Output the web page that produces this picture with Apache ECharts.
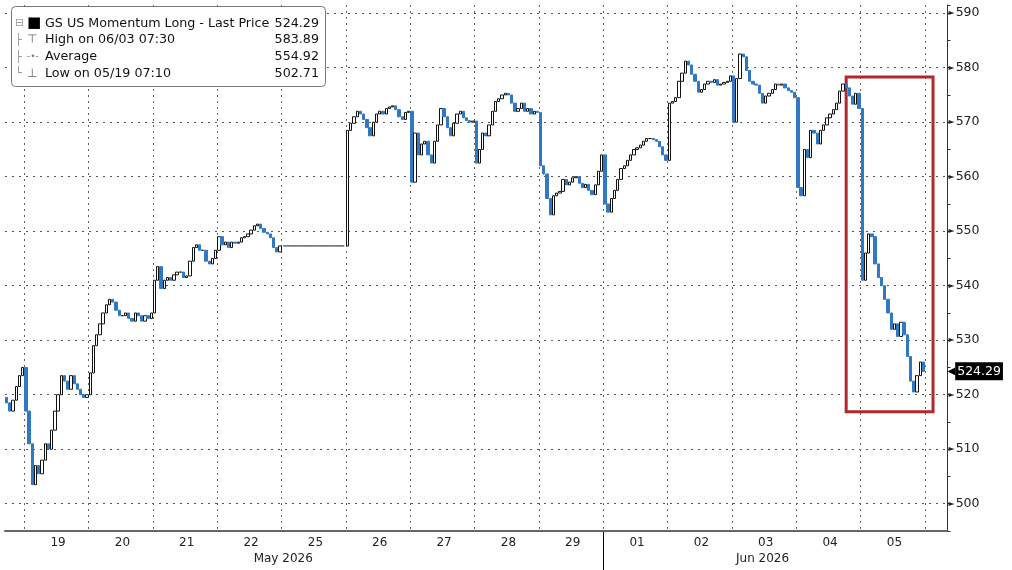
<!DOCTYPE html>
<html>
<head>
<meta charset="utf-8">
<script src="https://cdn.jsdelivr.net/npm/echarts@6/dist/echarts.min.js"></script>
<style>
html, body { margin: 0; background: #fff; }
#main { width: 1012px; height: 570px; }
</style>
</head>
<body>
<div id="main"></div>
<script>
// trading days on the axis, bars per full day, empty slots after the last bar
var dayNames = ['18', '19', '20', '21', '22', '25', '26', '27', '28', '29', '01', '02', '03', '04', '05'];
var barsPerDay = 20;
var futureBars = 7;
var holiday = '25';

// closes of each intraday bar (open = previous close)
var firstOpen = 519.5;
var d18 = [518.5, 517, 519, 521.5, 523.5, 525];
var d19 = [517, 511, 503.5, 507, 505.5, 508, 511, 510, 513.5, 517, 520, 523.5, 522.5, 521, 523.5, 522, 521, 520, 519.5, 520];
var d20 = [524, 529, 531, 533, 535, 536.5, 537.5, 537, 535.5, 534.5, 534.5, 535, 534, 533.5, 535, 534.5, 533.5, 534.5, 534, 535];
var d21 = [541, 543.5, 539.5, 541, 541.5, 541, 542, 542.5, 542.5, 541.5, 541.8, 544.5, 547, 547.5, 546.5, 546.5, 544.5, 544, 545, 546.5];
var d22 = [549, 547.5, 548, 547, 548, 547.8, 548, 548.8, 549, 549.5, 550.2, 551, 551.3, 550.5, 549.8, 549.5, 548.8, 547, 546.2, 547.3];
var d25 = [547.3, 547.3, 547.3, 547.3, 547.3, 547.3, 547.3, 547.3, 547.3, 547.3, 547.3, 547.3, 547.3, 547.3, 547.3, 547.3, 547.3, 547.3, 547.3, 547.3];
var d26 = [568.5, 569.8, 571, 572, 571.5, 570.5, 569, 567.5, 570, 571.5, 572, 571.5, 572.5, 572.8, 573, 572.3, 571, 570.5, 571.8, 572];
var d27 = [559, 568, 564, 566, 566.5, 564, 562.5, 566.5, 569.5, 572.5, 571, 569, 567.5, 569.8, 571.5, 572, 570.8, 570.3, 570, 570.2];
var d28 = [562.5, 565, 568, 567.5, 569.5, 572, 573.8, 574.3, 575, 575.3, 575, 573.5, 572, 572.5, 573.5, 572, 572.5, 571.5, 572, 571.8];
var d29 = [562, 560.5, 556, 553, 556.5, 557, 557.3, 559.5, 558.5, 559, 559.8, 560, 558.8, 558, 558.6, 557.5, 556.7, 558.5, 561, 564];
var d01 = [555, 553.5, 556, 557.5, 559.5, 561.5, 562, 563, 564, 565, 565.3, 565.8, 566.5, 567, 567, 566.8, 566.5, 565.5, 564, 563];
var d02 = [573.5, 573.8, 574.5, 577.5, 579, 581.2, 580.5, 578.8, 577.5, 575.5, 576, 577, 577.5, 577.3, 577.8, 576.8, 577, 577.3, 577.5, 578.5];
var d03 = [570, 578, 582.5, 582, 579.5, 577.5, 577, 576.8, 575.3, 573.5, 574.8, 575.3, 576, 577, 576.8, 577, 576.3, 575.8, 575.5, 574.5];
var d04 = [558, 556.5, 565, 563.5, 568.5, 568, 566, 568.5, 569.5, 570.8, 571.5, 572.3, 573.5, 575.7, 577, 576.3, 574.8, 573.3, 575.3, 572.5];
var d05 = [541, 546, 549.5, 549, 544, 541.5, 540, 537.5, 535, 532, 533, 530.7, 533.3, 531, 527, 522.5, 520.5, 523.5, 526, 524.29];
var dayCloses = [d18, d19, d20, d21, d22, d25, d26, d27, d28, d29, d01, d02, d03, d04, d05];

// legend box
var legendNames = ['GS US Momentum Long - Last Price', 'High on 06/03 07:30', 'Average', 'Low on 05/19 07:10'];
var legendValues = ['524.29', '583.89', '554.92', '502.71'];
var lastPrice = 524.29;

// highlighted box (price range and bar span)
var boxHigh = 578.3;
var boxLow = 516.9;
var boxFrom = '04|15';
var boxTo = '06|2';

var monthLabels = { '25|0': 'May 2026', '03|9': 'Jun 2026' };
var monthBreak = '01|0';

// build categories and OHLC
var categories = [], candles = [], flat = [];
var dayStart = {}, dayLabelAt = {}, breakAt = { 0: true };
var prev = firstOpen;
dayNames.forEach(function (day, k) {
    var cl = dayCloses[k];
    dayStart[categories.length] = true;
    if (cl.length === barsPerDay) dayLabelAt[categories.length + 10] = day;
    cl.forEach(function (c, j) {
        categories.push(day + '|' + j);
        if (day === holiday) {
            candles.push('-');
            flat.push(c);
        } else {
            candles.push([prev, c, Math.min(prev, c), Math.max(prev, c)]);
            flat.push('-');
            prev = c;
        }
    });
});
dayStart[categories.length] = true;
for (var f = 0; f < futureBars; f++) {
    categories.push('06|' + f);
    candles.push('-');
    flat.push('-');
}
delete dayStart[0];
breakAt[categories.indexOf(monthBreak)] = true;

var font = 'DejaVu Sans';
var legendText = legendNames.map(function (n, i) {
    var icon = ['{tr|⊟}{sq|■}', '{tr|├}{ic|⊤}', '{tr|├}{av|-•-}', '{tr|└}{ic|⊥}'][i];
    return icon + '{n|' + n + '}{v|' + legendValues[i] + '}';
}).join('\n');

var myChart = echarts.init(document.getElementById('main'));
var option = {
    animation: false,
    backgroundColor: '#fff',
    title: {
        left: 11,
        top: 6,
        text: legendText,
        backgroundColor: '#fff',
        borderColor: '#777',
        borderWidth: 1,
        borderRadius: 4,
        padding: [9, 7, 5, 4],
        textStyle: {
            fontFamily: font,
            fontWeight: 'normal',
            lineHeight: 16.7,
            rich: {
                tr: { color: '#999', fontSize: 11, width: 12, fontWeight: 'normal', fontFamily: font },
                sq: { color: '#000', fontSize: 15, width: 18, fontWeight: 'normal', fontFamily: font },
                ic: { color: '#666', fontSize: 12, width: 18, fontWeight: 'normal', fontFamily: font },
                av: { color: '#777', fontSize: 9, width: 18, fontWeight: 'normal', fontFamily: font },
                n: { color: '#111', fontSize: 12.7, width: 231, fontWeight: 'normal', fontFamily: font },
                v: { color: '#111', fontSize: 12.7, width: 43, align: 'right', fontWeight: 'normal', fontFamily: font }
            }
        }
    },
    grid: [
        { left: 5, right: 64.5, top: 5, bottom: 39 },
        { left: 5, right: 64.5, top: 531, bottom: 0 }
    ],
    xAxis: [{
        type: 'category',
        data: categories,
        gridIndex: 0,
        axisLine: { lineStyle: { color: '#666', width: 2 } },
        axisTick: {
            inside: true, length: 5,
            interval: function (i) { return !!dayStart[i]; },
            lineStyle: { color: '#777' }
        },
        axisLabel: {
            interval: function (i) { return dayLabelAt[i] !== undefined; },
            formatter: function (v) { return v.split('|')[0]; },
            color: '#222', fontFamily: font, fontSize: 12, margin: 6
        },
        splitLine: {
            show: true,
            interval: function (i) { return !!dayStart[i]; },
            lineStyle: { color: '#666', type: [2, 4] }
        }
    }, {
        type: 'category',
        data: categories,
        gridIndex: 1,
        position: 'bottom',
        axisLine: { show: false },
        axisTick: { show: false },
        axisLabel: {
            inside: true,
            interval: function (i) { return monthLabels[categories[i]] !== undefined; },
            formatter: function (v) { return monthLabels[v] || ''; },
            color: '#222', fontFamily: font, fontSize: 12, margin: 5
        },
        splitLine: {
            show: true,
            interval: function (i) { return !!breakAt[i]; },
            lineStyle: { color: ['rgba(0,0,0,0)', '#000', 'rgba(0,0,0,0)'], width: 1, type: 'solid' }
        }
    }],
    yAxis: [{
        type: 'value',
        position: 'right',
        gridIndex: 0,
        min: 495,
        max: 591.5,
        interval: 5,
        axisLine: { show: true, lineStyle: { color: '#333' } },
        axisTick: { show: true, length: 3, lineStyle: { color: '#333' } },
        axisLabel: {
            margin: 1,
            formatter: function (v) { return v % 10 === 0 ? '{p|►}' + v : ''; },
            color: '#222', fontFamily: font, fontSize: 12.5,
            rich: { p: { color: '#222', fontSize: 8, padding: [0, 1, 0, 0], fontFamily: font } }
        },
        splitLine: {
            show: true,
            showMinLine: true,
            lineStyle: { color: ['rgba(0,0,0,0)', '#555'], type: [2, 5] }
        }
    }, {
        type: 'value',
        gridIndex: 1,
        show: false,
        axisLine: { show: false },
        splitLine: { show: false }
    }],
    series: [{
        name: legendNames[0],
        type: 'candlestick',
        data: candles,
        barWidth: 2.8,
        itemStyle: {
            color: '#ffffff',
            color0: '#2f78c4',
            borderColor: '#111',
            borderColor0: '#2f78c4',
            borderWidth: 1
        },
        markLine: {
            silent: true,
            symbol: ['none', 'none'],
            lineStyle: { color: 'rgba(0,0,0,0)', width: 0 },
            data: [{ yAxis: lastPrice }],
            label: {
                show: true,
                position: 'end',
                distance: 0,
                formatter: '{a|◀}{b|' + lastPrice + '}',
                rich: {
                    a: { color: '#000', fontSize: 10, fontFamily: font },
                    b: { color: '#fff', backgroundColor: '#000', fontSize: 12.5, padding: [3, 2, 2, 2], fontFamily: font }
                }
            }
        },
        markArea: {
            silent: true,
            itemStyle: { color: 'rgba(0,0,0,0)', borderColor: '#b3282d', borderWidth: 3 },
            data: [[{ xAxis: boxFrom, yAxis: boxHigh }, { xAxis: boxTo, yAxis: boxLow }]]
        }
    }, {
        type: 'line',
        data: flat,
        symbol: 'none',
        lineStyle: { color: '#111', width: 1 }
    }]
};
myChart.setOption(option);
</script>
</body>
</html>
